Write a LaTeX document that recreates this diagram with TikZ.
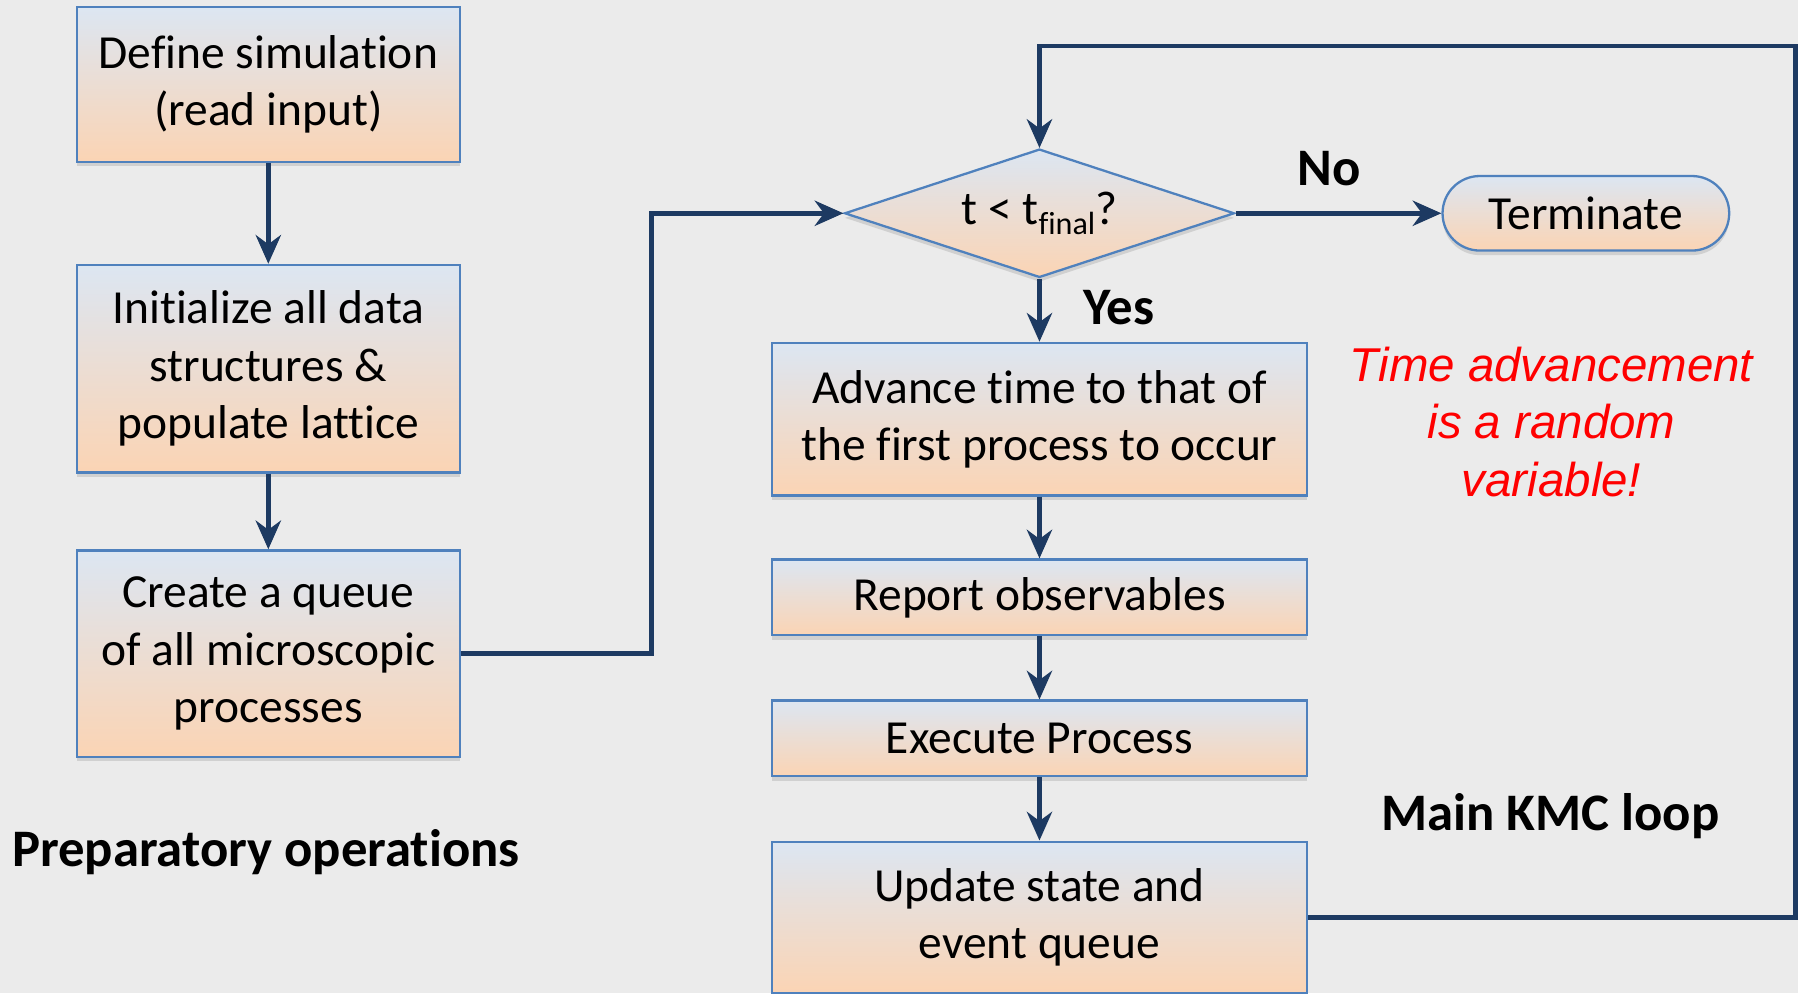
\documentclass[tikz,border=0pt]{standalone}
\usepackage{fontspec}
\setmainfont{Carlito}[Ligatures={CommonOff,ContextualOff}]
\newfontfamily\notefont{Liberation Sans}
\usetikzlibrary{positioning, arrows.meta, shapes.geometric, shapes.misc, shadows}

\definecolor{bgcol}{HTML}{EBEBEB}
\definecolor{linecol}{HTML}{1D3A62}
\definecolor{edgecol}{HTML}{4F81BD}
\definecolor{topcol}{HTML}{DCE6F2}
\definecolor{botcol}{HTML}{FBD4B4}

\begin{document}
\begin{tikzpicture}[
    x=0.5pt, y=-0.5pt,
    >={Stealth[length=12.5pt, width=11pt, inset=4pt]},
    font=\fontsize{20.7}{25}\selectfont,
    stepbox/.style={
        draw=edgecol, line width=1pt,
        top color=topcol, bottom color=botcol,
        drop shadow={shadow xshift=0pt, shadow yshift=-2pt, opacity=0.25},
        align=center, inner sep=0pt,
    },
    leftbox/.style={stepbox, minimum width=167pt},
    rightbox/.style={stepbox, minimum width=233.5pt},
    cond/.style={
        stepbox, diamond, aspect=3,
        minimum width=170pt, minimum height=56pt,
    },
    stop/.style={
        stepbox, rounded rectangle,
        minimum width=125pt, minimum height=32.5pt,
    },
    flow/.style={->, line width=2pt, draw=linecol},
    tag/.style={font=\fontsize{23}{28}\selectfont\bfseries, inner sep=0pt},
    note/.style={
        align=center, text=red, inner sep=0pt,
        font=\notefont\itshape\fontsize{20.7}{25}\selectfont,
    },
]

\def\colL{234}
\def\colR{906.5}

\path[use as bounding box, fill=bgcol] (0,0) rectangle (1568,866);

% preparatory operations
\node[leftbox, minimum height=67.5pt] (def) at (\colL,73.5) {Define simulation\\(read input)};
\node[leftbox, minimum height=90.5pt] (init) at (\colL,321.5) {Initialize all data\\structures \&\\populate lattice};
\node[leftbox, minimum height=90pt] (queue) at (\colL,570) {Create a queue\\of all microscopic\\processes};
\node[tag] (prep) at (232,743) {Preparatory operations};

% main loop
\node[cond] (test) at (\colR,186) {t < t{\fontsize{14}{14}\selectfont\raisebox{-4.5pt}{final}}?};
\node[stop] (term) at (1383,186) {Terminate};
\node[rightbox, minimum height=66.5pt] (adv) at (\colR,365.5) {Advance time to that of\\the first process to occur};
\node[rightbox, minimum height=33pt] (rep) at (\colR,521) {Report observables};
\node[rightbox, minimum height=33pt] (exe) at (\colR,644) {Execute Process};
\node[rightbox, minimum height=66pt] (upd) at (\colR,800) {Update state and\\event queue};

\node[tag] (no) at (1159,147) {No};
\node[tag] (yes) at (976,268) {Yes};
\node[tag] (kmc) at (1352,712) {Main KMC loop};
\node[note] (rand) at (1353,368) {Time advancement\\is a random\\variable!};

\coordinate (jog) at (568,570);
\coordinate (top) at (1566,40);

% connectors
\draw[flow] (def) -- (init);
\draw[flow] (init) -- (queue);
\draw[flow] (queue.east) -- (jog) |- (test.west);
\draw[flow] (test) -- (term);
\draw[flow] (test) -- (adv);
\draw[flow] (adv) -- (rep);
\draw[flow] (rep) -- (exe);
\draw[flow] (exe) -- (upd);
\draw[flow] (upd.east) -- (upd.east -| top) -- (top) -| (test.north);

\end{tikzpicture}
\end{document}
